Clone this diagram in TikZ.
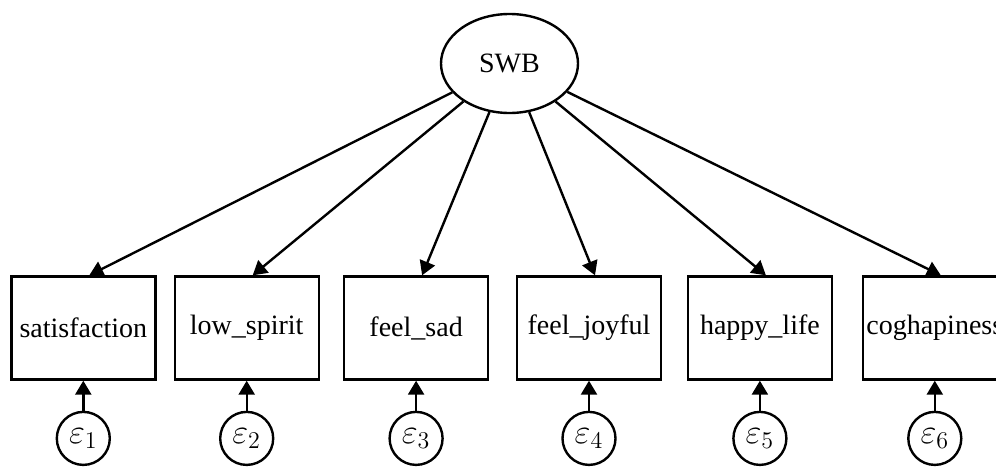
\documentclass[tikz,border=0pt]{standalone}
\usepackage{fontspec}
\setmainfont{Liberation Serif}
\usetikzlibrary{arrows.meta, positioning, shapes.geometric}

\begin{document}
\begin{tikzpicture}[>={Triangle[length=7pt, width=8pt]}, line width=1.2pt,
    x=0.5pt, y=-0.5pt, font=\fontsize{14}{16}\selectfont,
    obs/.style={draw, minimum width=72pt, minimum height=51.5pt, inner sep=1pt},
    lat/.style={draw, ellipse, minimum width=68.5pt, minimum height=49.5pt, inner sep=0pt},
    err/.style={draw, circle, minimum size=26.5pt, inner sep=0pt, font=\fontsize{18}{20}\selectfont}]
  \useasboundingbox (0,0) rectangle (996,466);
  \clip (0,0) rectangle (996,466);
  \node[lat] (swb) at (509.5,63.5) {SWB};
  \node[obs] (sat) at (83.3,328) {satisfaction};
  \node[obs, right=8.5pt of sat] (low) {low\_spirit};
  \node[obs, right=11.5pt of low] (sad) {feel\_sad};
  \node[obs, right=13.25pt of sad] (joy) {feel\_joyful};
  \node[obs, right=12.25pt of joy] (hap) {happy\_life};
  \node[obs, right=14.25pt of hap] (cog) {coghapiness};
  \foreach \v/\n in {sat/1, low/2, sad/3, joy/4, hap/5, cog/6} {
    \node[err, below=15pt of \v] (e\n) {$\varepsilon_{\n}$};
    \draw[->] (e\n) -- (\v);
    \draw[->] (swb) -- ([xshift=3pt]\v.north);
  }
\end{tikzpicture}
\end{document}
